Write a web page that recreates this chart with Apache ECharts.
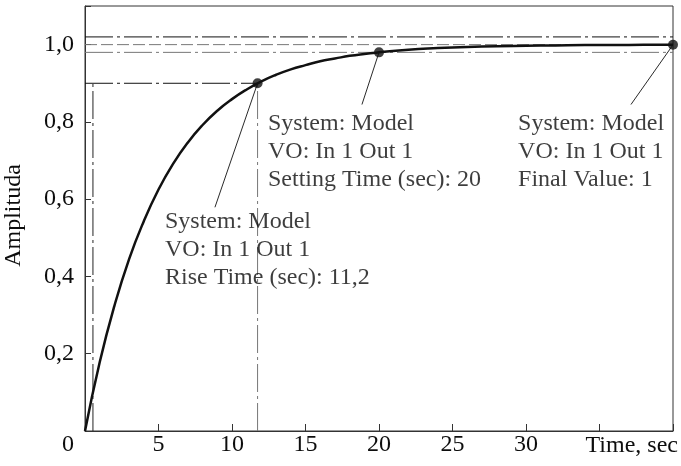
<!DOCTYPE html>
<html>
<head>
<meta charset="utf-8">
<script src="https://cdn.jsdelivr.net/npm/echarts@6/dist/echarts.min.js"></script>
<style>html,body{margin:0;padding:0;background:#fff}#c{width:681px;height:466px}</style>
</head>
<body>
<div id="c"></div>
<script>
// Step response
const timeValues = [0,1,2,3,4,5,6,7,8,9,10,11,12,13,14,15,16,17,18,19,20,22,24,26,28,30,32,34,36,38,40];
const amplitudeValues = [0,0.178,0.324,0.445,0.543,0.625,0.692,0.747,0.792,0.829,0.859,0.884,0.905,0.922,0.936,0.947,0.957,0.964,0.971,0.976,0.980,0.987,0.991,0.994,0.996,0.997,0.998,0.999,0.999,0.9994,0.9996];

// Characteristic points
const risePoint = [11.74, 0.9];
const settlingPoint = [20, 0.98];
const finalPoint = [40, 0.9996];

// Reference lines
const toleranceUpper = [[0,1.02],[40,1.02]];
const finalLevel = [[0,1.0],[40,1.0]];
const toleranceLower = [[0,0.98],[40,0.98]];
const riseLevel = [[0,0.9],[11.74,0.9]];
const riseStartLine = [[0.54,0],[0.54,0.9]];
const riseEndLine = [[11.74,0],[11.74,0.9]];

// Annotation anchors (text top-left) and leader ends
const riseText = ['System: Model','VO: In 1 Out 1','Rise Time (sec): 11,2'];
const settleText = ['System: Model','VO: In 1 Out 1','Setting Time (sec): 20'];
const finalText = ['System: Model','VO: In 1 Out 1','Final Value: 1'];
const riseTextAnchor = [5.44, 0.5775];
const settleTextAnchor = [12.45, 0.8307];
const finalTextAnchor = [29.46, 0.8307];
const riseLeader = [[11.74,0.9],[8.84,0.579]];
const settleLeader = [[20,0.98],[18.84,0.845]];
const finalLeader = [[40,0.9996],[37.14,0.845]];

// Axis ticks
const xLabelShown = [5,10,15,20,25,30];
const yLabels = {0.2:'0,2',0.4:'0,4',0.6:'0,6',0.8:'0,8',1:'1,0'};

const FONT = '"Liberation Serif", "Times New Roman", Times, serif';
const TXT = '#0d0d0d';
const dashDot = [28,4,3,4];

function refLine(data, color, type, width) {
  return {type:'line', data:data, symbol:'none', clip:false, silent:true,
    lineStyle:{color:color, width:width||1, type:type}, z:1};
}
function textSeries(anchor, lines) {
  return {type:'scatter', data:[anchor], symbolSize:0, clip:false, silent:true,
    label:{show:true, position:[0,0], align:'left', verticalAlign:'top',
      formatter: lines.join('\n'), fontFamily:FONT, fontSize:24, lineHeight:28, color:TXT}, z:5};
}

const chart = echarts.init(document.getElementById('c'), null, {renderer:'canvas'});
chart.setOption({
  animation:false,
  backgroundColor:'#fff',
  grid:{left:85, right:8, top:6, bottom:35, show:true, borderColor:'#333', borderWidth:1, backgroundColor:'transparent',
    containLabel:false, outerBoundsMode:'none'},
  xAxis:{type:'value', min:0, max:40, interval:5,
    axisLine:{lineStyle:{color:'#333', width:1}},
    axisTick:{inside:true, length:7, lineStyle:{color:'#333'}},
    splitLine:{show:false},
    axisLabel:{margin:2, fontFamily:FONT, fontSize:24, color:TXT,
      formatter:function(v){ if(v===0) return '{z|0}'; return xLabelShown.indexOf(v)>=0 ? String(v) : ''; },
      rich:{z:{fontFamily:FONT, fontSize:24, color:TXT, padding:[0,34,0,0]}}},
    name:'Time, sec', nameLocation:'end', nameGap:5,
    nameTextStyle:{fontFamily:FONT, fontSize:24, color:TXT, align:'right', verticalAlign:'top', padding:[3,0,0,0]}
  },
  yAxis:{type:'value', min:0, max:1.1, interval:0.2,
    axisLine:{show:true, lineStyle:{color:'#333', width:1}},
    axisTick:{show:true, inside:true, length:6, lineStyle:{color:'#333'}},
    splitLine:{show:false},
    axisLabel:{margin:11, fontFamily:FONT, fontSize:24, color:TXT,
      formatter:function(v){ const k = Math.round(v*10)/10; return yLabels[k] || ''; }},
    name:'Amplituda', nameLocation:'middle', nameGap:59,
    nameTextStyle:{fontFamily:FONT, fontSize:24, color:TXT, padding:[0,0,0,6]}
  },
  series:[
    refLine(toleranceUpper, '#111', dashDot),
    refLine(finalLevel, '#777', [12,4]),
    refLine(toleranceLower, '#777', dashDot),
    refLine(riseLevel, '#111', dashDot),
    refLine(riseStartLine, '#222', dashDot),
    refLine(riseEndLine, '#777', dashDot),
    refLine(riseLeader, '#111', 'solid', 0.9),
    refLine(settleLeader, '#111', 'solid', 0.9),
    refLine(finalLeader, '#111', 'solid', 0.9),
    {type:'line', data:timeValues.map((t,i)=>[t, amplitudeValues[i]]), smooth:true, symbol:'none', clip:false,
      lineStyle:{color:'#111', width:2.5}, z:3},
    {type:'scatter', data:[risePoint, settlingPoint, finalPoint], symbol:'circle', symbolSize:10, clip:false,
      itemStyle:{color:'#111'}, z:4},
    textSeries(riseTextAnchor, riseText),
    textSeries(settleTextAnchor, settleText),
    textSeries(finalTextAnchor, finalText)
  ]
});
</script>
</body>
</html>
